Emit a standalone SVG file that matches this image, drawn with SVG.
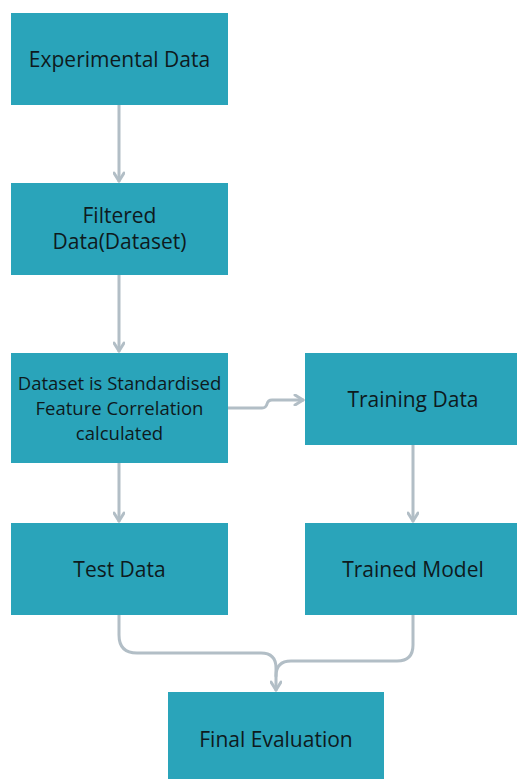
<svg xmlns="http://www.w3.org/2000/svg" width="517" height="779" viewBox="0 0 517 779">
<defs>
<style>
.box{fill:#2aa4ba;}
.lbl{font-family:"Open Sans","Liberation Sans",sans-serif;font-size:21px;fill:#0e1a1d;text-anchor:middle;}
.sm{font-size:18.5px;}
.con{fill:none;stroke:#b2bec6;stroke-width:3;stroke-linecap:round;stroke-linejoin:round;}
</style>
<marker id="ah" viewBox="0 0 12 12" refX="10" refY="6" markerWidth="12" markerHeight="12" markerUnits="userSpaceOnUse" orient="auto">
<path d="M2,1 L10,6 L2,11" fill="none" stroke="#b2bec6" stroke-width="3" stroke-linecap="round" stroke-linejoin="round"/>
</marker>
</defs>
<rect width="517" height="779" fill="#ffffff"/>
<g id="connectors">
<path class="con" d="M119,105 V181" marker-end="url(#ah)"/>
<path class="con" d="M119,275 V351" marker-end="url(#ah)"/>
<path class="con" d="M228,408 H262 Q266,408 267,404 Q268,400 272,400 H303" marker-end="url(#ah)"/>
<path class="con" d="M119,463 V521" marker-end="url(#ah)"/>
<path class="con" d="M413,445 V521" marker-end="url(#ah)"/>
<path class="con" d="M119,615 V635 Q119,653 137,653 H261 Q276,653 276,668 V690" marker-end="url(#ah)"/>
<path class="con" d="M413,615 V645 Q413,661 397,661 H291 Q276,661 276,676"/>
</g>
<g id="experimental-data">
<rect class="box" x="11" y="13" width="217" height="92"/>
<text class="lbl" x="119.5" y="67">Experimental Data</text>
</g>
<g id="filtered-data">
<rect class="box" x="11" y="183" width="217" height="92"/>
<text class="lbl" x="119.5" y="223">Filtered</text>
<text class="lbl" x="119.5" y="249">Data(Dataset)</text>
</g>
<g id="standardised">
<rect class="box" x="11" y="353" width="217" height="110"/>
<text class="lbl sm" x="119.5" y="390">Dataset is Standardised</text>
<text class="lbl sm" x="119.5" y="415">Feature Correlation</text>
<text class="lbl sm" x="119.5" y="440">calculated</text>
</g>
<g id="training-data">
<rect class="box" x="305" y="353" width="212" height="92"/>
<text class="lbl" x="413" y="407">Training Data</text>
</g>
<g id="test-data">
<rect class="box" x="11" y="523" width="217" height="92"/>
<text class="lbl" x="119.5" y="577">Test Data</text>
</g>
<g id="trained-model">
<rect class="box" x="305" y="523" width="212" height="92"/>
<text class="lbl" x="413" y="577">Trained Model</text>
</g>
<g id="final-evaluation">
<rect class="box" x="168" y="692" width="216" height="87"/>
<text class="lbl" x="276" y="747">Final Evaluation</text>
</g>
</svg>
